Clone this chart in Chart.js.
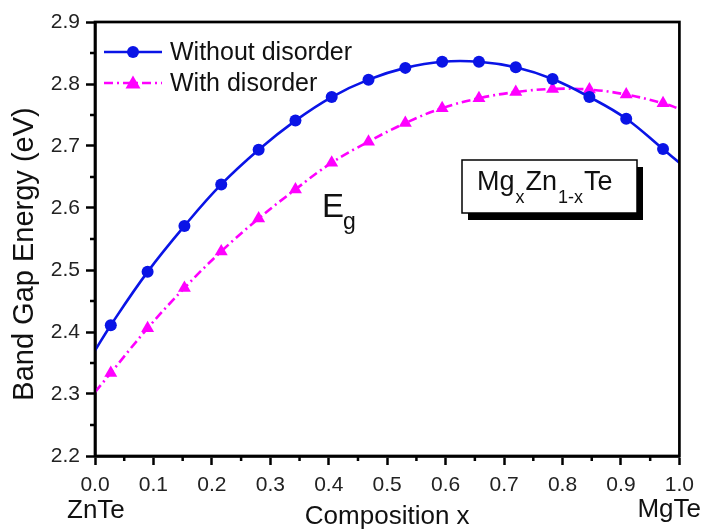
<!DOCTYPE html>
<html>
<head>
<meta charset="utf-8">
<script src="https://cdn.jsdelivr.net/npm/chart.js@4"></script>
<style>
  html, body { margin: 0; padding: 0; background: #fff; }
  #wrap { width: 702px; height: 531px; }
</style>
</head>
<body>
<div id="wrap"><canvas id="gapChart" width="702" height="531"></canvas></div>
<script>
// composition x (curve ends at 0 and 1 have no marker)
const composition = [0, 0.027, 0.090, 0.153, 0.216, 0.280, 0.343, 0.405, 0.468, 0.531, 0.594, 0.657, 0.720, 0.783, 0.846, 0.909, 0.972, 1];
const withoutDisorder = [2.370, 2.411, 2.497, 2.571, 2.638, 2.694, 2.741, 2.779, 2.807, 2.826, 2.836, 2.836, 2.827, 2.808, 2.779, 2.744, 2.695, 2.673];
const withDisorder = [2.303, 2.334, 2.406, 2.471, 2.530, 2.583, 2.630, 2.673, 2.707, 2.737, 2.761, 2.777, 2.787, 2.792, 2.791, 2.783, 2.769, 2.760];
const seriesNames = ["Without disorder", "With disorder"];
const xRange = [0, 1];
const yRange = [2.2, 2.9];

const FONT = "'Liberation Sans', Arial, sans-serif";
const BLUE = "#0a14e6";
const MAGENTA = "#ff00ff";

const toPoints = ys => composition.map((x, i) => ({ x: x, y: ys[i] }));
const markerRadius = r => ctx => (ctx.dataIndex === 0 || ctx.dataIndex === composition.length - 1) ? 0 : r;

// frame, minor ticks, legend and text labels
const decorations = {
    id: "decorations",
    afterDatasetsDraw(chart) {
        const c = chart.ctx;
        const a = chart.chartArea;
        const xs = chart.scales.x, ys = chart.scales.y;
        c.save();

        // minor ticks
        c.strokeStyle = "#000";
        c.lineWidth = 2.5;
        c.beginPath();
        for (let i = 0; i < xs.ticks.length - 1; i++) {
            const px = xs.getPixelForValue((xs.ticks[i].value + xs.ticks[i + 1].value) / 2);
            c.moveTo(px, a.bottom);
            c.lineTo(px, a.bottom + 5);
        }
        for (let i = 0; i < ys.ticks.length - 1; i++) {
            const py = ys.getPixelForValue((ys.ticks[i].value + ys.ticks[i + 1].value) / 2);
            c.moveTo(a.left, py);
            c.lineTo(a.left - 5, py);
        }
        c.stroke();

        // frame
        c.lineWidth = 2.7;
        c.strokeRect(a.left, a.top, a.right - a.left, a.bottom - a.top);

        // legend
        const legend = [
            { y: 52, color: BLUE, dash: [], style: "circle" },
            { y: 83, color: MAGENTA, dash: [9, 4, 2, 4], style: "triangle" }
        ];
        legend.forEach((l, i) => {
            c.strokeStyle = l.color;
            c.lineWidth = 2.6;
            c.setLineDash(l.dash);
            c.beginPath();
            c.moveTo(104, l.y);
            c.lineTo(162, l.y);
            c.stroke();
            c.setLineDash([]);
            c.fillStyle = l.color;
            if (l.style === "circle") {
                c.beginPath();
                c.arc(133, l.y, 6, 0, Math.PI * 2);
                c.fill();
            } else {
                c.beginPath();
                c.moveTo(133, l.y - 7.5);
                c.lineTo(140.5, l.y + 5.5);
                c.lineTo(125.5, l.y + 5.5);
                c.closePath();
                c.fill();
            }
            c.fillStyle = "#111";
            c.font = "25px " + FONT;
            c.textBaseline = "middle";
            c.textAlign = "left";
            c.fillText(seriesNames[i], 170, l.y + 1);
        });

        // E_g label
        c.fillStyle = "#111";
        c.textBaseline = "alphabetic";
        c.font = "33px " + FONT;
        c.fillText("E", 322, 217);
        c.font = "23px " + FONT;
        c.fillText("g", 343, 229);

        // Mg_xZn_1-xTe box
        c.fillStyle = "#000";
        c.fillRect(468, 167, 175, 53);
        c.fillStyle = "#fff";
        c.fillRect(462, 160, 175, 53);
        c.strokeStyle = "#000";
        c.lineWidth = 1.5;
        c.strokeRect(462, 160, 175, 53);
        const parts = [["Mg", 0], ["x", 1], ["Zn", 0], ["1-x", 1], ["Te", 0]];
        let tx = 477;
        c.fillStyle = "#111";
        parts.forEach(p => {
            c.font = (p[1] ? "18px " : "27px ") + FONT;
            c.fillText(p[0], tx, p[1] ? 203 : 190);
            tx += c.measureText(p[0]).width + 1;
        });

        // axis titles and end-member names
        c.font = "26px " + FONT;
        c.textAlign = "center";
        c.fillText("Composition x", (a.left + a.right) / 2, 524);
        c.textAlign = "left";
        c.fillText("ZnTe", 67, 518);
        c.textAlign = "right";
        c.fillText("MgTe", 701, 517);

        c.translate(25, 254);
        c.rotate(-Math.PI / 2);
        c.textAlign = "center";
        c.textBaseline = "middle";
        c.font = "29px " + FONT;
        c.fillText("Band Gap Energy (eV)", 0, 0);
        c.restore();
    }
};

const ctx = document.getElementById("gapChart").getContext("2d");

new Chart(ctx, {
    type: "line",
    data: {
        datasets: [{
            label: seriesNames[0],
            data: toPoints(withoutDisorder),
            borderColor: BLUE,
            backgroundColor: BLUE,
            borderWidth: 2.6,
            tension: 0.4,
            pointStyle: "circle",
            pointRadius: markerRadius(6),
            pointBorderWidth: 0,
        }, {
            label: seriesNames[1],
            data: toPoints(withDisorder),
            borderColor: MAGENTA,
            backgroundColor: MAGENTA,
            borderWidth: 2.6,
            borderDash: [9, 4, 2, 4],
            tension: 0.4,
            pointStyle: "triangle",
            pointRadius: markerRadius(7.5),
            pointBorderWidth: 0,
        }]
    },
    options: {
        responsive: false,
        animation: false,
        layout: { padding: { top: 22, right: 15, left: 0, bottom: 0 } },
        plugins: {
            legend: { display: false },
            tooltip: { enabled: false }
        },
        scales: {
            x: {
                type: "linear",
                min: xRange[0],
                max: xRange[1],
                afterFit: s => { s.height = 75; },
                ticks: {
                    stepSize: 0.1,
                    padding: 8,
                    color: "#222",
                    font: { family: FONT, size: 21 },
                    maxRotation: 0,
                    callback: v => v.toFixed(1)
                },
                grid: {
                    drawOnChartArea: false,
                    tickLength: 9,
                    tickWidth: 2.5,
                    tickColor: "#000"
                },
                border: { color: "#000", width: 2.7 }
            },
            y: {
                min: yRange[0],
                max: yRange[1],
                afterFit: s => { s.width = 95; },
                ticks: {
                    stepSize: 0.1,
                    padding: 6,
                    color: "#222",
                    font: { family: FONT, size: 21 },
                    callback: v => v.toFixed(1)
                },
                grid: {
                    drawOnChartArea: false,
                    tickLength: 9,
                    tickWidth: 2.5,
                    tickColor: "#000"
                },
                border: { color: "#000", width: 2.7 }
            }
        }
    },
    plugins: [decorations]
});
</script>
</body>
</html>
